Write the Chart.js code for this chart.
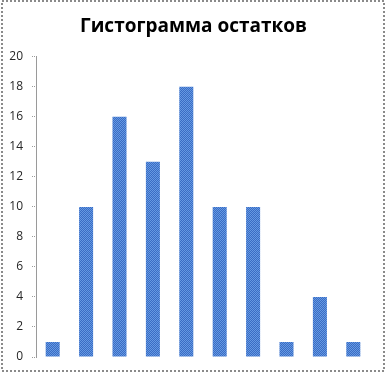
<!DOCTYPE html>
<html>
<head>
<meta charset="utf-8">
<script src="https://cdn.jsdelivr.net/npm/chart.js@4"></script>
<style>
    html, body { margin: 0; padding: 0; background: #fff; }
    #wrap { width: 387px; height: 374px; position: relative; }
</style>
</head>
<body>
<div id="wrap"><canvas id="residChart"></canvas></div>
<script>
// histogram bins and counts
const bins = ['1', '2', '3', '4', '5', '6', '7', '8', '9', '10'];
const counts = [1, 10, 16, 13, 18, 10, 10, 1, 4, 1];
const chartTitle = 'Гистограмма остатков';

// small checker pattern like the original fill
const makePattern = () => {
    const c = document.createElement('canvas');
    c.width = 2;
    c.height = 2;
    const g = c.getContext('2d');
    g.fillStyle = '#3a6cc4';
    g.fillRect(0, 0, 2, 2);
    g.fillStyle = '#6599e2';
    g.fillRect(0, 0, 1, 1);
    g.fillRect(1, 1, 1, 1);
    return g.createPattern(c, 'repeat');
};

// dashed frame around the whole picture
const framePlugin = {
    id: 'frame',
    afterDraw: (chart) => {
        const ctx = chart.ctx;
        ctx.save();
        ctx.strokeStyle = '#8a8a8a';
        ctx.lineWidth = 2;
        ctx.setLineDash([2, 2]);
        ctx.strokeRect(2, 1, 382, 370);
        ctx.restore();
    }
};

new Chart(document.getElementById('residChart'), {
    type: 'bar',
    data: {
        labels: bins,
        datasets: [{
            data: counts,
            backgroundColor: makePattern(),
            borderWidth: 0,
            categoryPercentage: 1,
            barPercentage: 0.42
        }]
    },
    options: {
        responsive: true,
        maintainAspectRatio: false,
        animation: false,
        layout: {
            padding: { left: 0, right: 0, top: 0, bottom: 17 }
        },
        plugins: {
            legend: { display: false },
            tooltip: { enabled: false },
            title: {
                display: true,
                text: chartTitle,
                color: '#000',
                font: { family: 'Open Sans', size: 19, weight: 'bold', lineHeight: 1.2 },
                padding: { top: 15, bottom: 19 }
            }
        },
        scales: {
            x: { display: false },
            y: {
                min: 0,
                max: 20,
                afterFit: (scale) => { scale.width = 36; },
                ticks: {
                    stepSize: 2,
                    padding: 9,
                    color: '#262626',
                    font: { family: 'Open Sans', size: 12 }
                },
                grid: {
                    drawOnChartArea: false,
                    drawTicks: true,
                    tickLength: 4,
                    color: '#9a9a9a',
                    tickBorderDash: [1, 1]
                },
                border: {
                    display: true,
                    color: '#9a9a9a',
                    dash: [1, 1]
                }
            },
            // empty right-hand spacer so the title sits centred on the picture
            spacer: {
                position: 'right',
                min: 0,
                max: 20,
                afterFit: (scale) => { scale.width = 17; },
                ticks: { display: false },
                grid: { display: false },
                border: { display: false }
            }
        }
    },
    plugins: [framePlugin]
});
</script>
</body>
</html>
